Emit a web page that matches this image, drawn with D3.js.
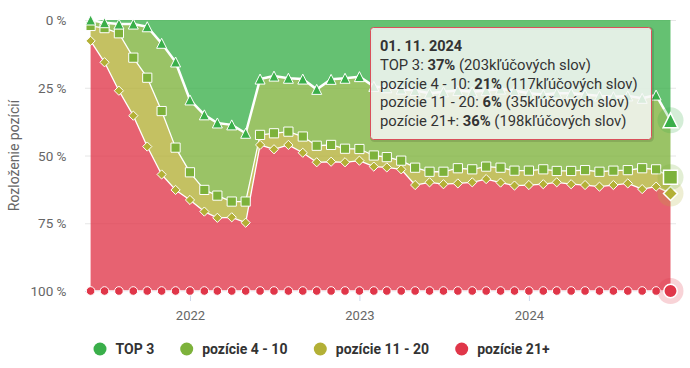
<!DOCTYPE html>
<html>
<head>
<meta charset="utf-8">
<script src="https://cdn.jsdelivr.net/npm/d3@7"></script>
<style>
  body { margin: 0; background: #fff; }
  svg { font-family: Roboto, "Open Sans", sans-serif; display: block; }
</style>
</head>
<body>
<svg id="chart" width="690" height="368"></svg>
<script>
// monthly snapshots, share of keywords (%) per position bucket
var months = ["2021-06","2021-07","2021-08","2021-09","2021-10","2021-11","2021-12",
  "2022-01","2022-02","2022-03","2022-04","2022-05","2022-06","2022-07","2022-08","2022-09","2022-10","2022-11","2022-12",
  "2023-01","2023-02","2023-03","2023-04","2023-05","2023-06","2023-07","2023-08","2023-09","2023-10","2023-11","2023-12",
  "2024-01","2024-02","2024-03","2024-04","2024-05","2024-06","2024-07","2024-08","2024-09","2024-10","2024-11"];

var top3 = [0, 1, 1.5, 1.5, 2.5, 8.6, 15.5,
  29.5, 35, 38, 38.7, 41.8, 21.8, 20.7, 21.5, 21.8, 25.6, 21.9, 21.5,
  20.9, 24.5, 25, 25.5, 26, 27, 26.5, 26, 26.5, 26, 25.5, 26,
  27, 27.5, 27, 27, 27.5, 28, 28.3, 28, 28.9, 27.7, 37];
var pos4to10 = [2.2, 2, 3.4, 12.4, 18.8, 25, 31.6,
  26.7, 27.7, 26.8, 28.3, 25.2, 20.6, 21.1, 19.7, 21.2, 20.8, 24.2, 26,
  26.7, 25.5, 25.6, 26.4, 28.5, 29, 29.5, 28.7, 28.6, 28.1, 29, 29.6,
  28.6, 27.6, 28.7, 28.7, 27.9, 28, 27.3, 27.4, 25.8, 27.4, 21];
var pos11to20 = [5.5, 12.6, 21.2, 21.4, 25.4, 23.4, 15.6,
  10.2, 8, 8.2, 5.8, 7.8, 3.7, 5.9, 4.9, 6, 6.1, 6.2, 5,
  4.3, 4.1, 3.8, 3.2, 6.4, 3.9, 4.6, 5.6, 4.8, 4.6, 5.5, 5.5,
  5.3, 5.5, 4.2, 4.9, 5.5, 5.5, 5.3, 4.9, 7.7, 6.4, 6];
var pos21plus = [92.3, 84.4, 73.9, 64.7, 53.3, 43, 37.3,
  33.6, 29.3, 27, 27.2, 25.2, 53.9, 52.3, 53.9, 51, 47.5, 47.7, 47.5,
  48.1, 45.9, 45.6, 44.9, 39.1, 40.1, 39.4, 39.7, 40.1, 41.3, 40, 38.9,
  39.1, 39.4, 40.1, 39.4, 39.1, 38.5, 39.1, 39.7, 37.6, 38.5, 36];

var seriesKeys = ["top3", "p4", "p11", "p21"];
var seriesNames = ["TOP 3", "pozície 4 - 10", "pozície 11 - 20", "pozície 21+"];
var seriesColors = ["#3aaf4a", "#7db23b", "#b3b036", "#e03649"];
var seriesSymbols = ["triangle", "square", "diamond", "circle"];
var yTicks = [0, 25, 50, 75, 100];

// hovered point in the tooltip
var tipDate = "01. 11. 2024";
var tipShares = [37, 21, 6, 36];
var tipCounts = [203, 117, 35, 198];

var svg = d3.select("#chart");
var parseMonth = d3.timeParse("%Y-%m");

var data = months.map(function(m, i) {
  return { date: parseMonth(m), top3: top3[i], p4: pos4to10[i], p11: pos11to20[i], p21: pos21plus[i] };
});
var stacked = d3.stack().keys(seriesKeys)(data);

var plot = { left: 85, right: 676, top: 20, bottom: 291 };

var xScale = d3.scaleTime()
  .domain([data[0].date, data[data.length - 1].date])
  .range([90.6, 670.5]);
// reversed: 0 % at the top
var yScale = d3.scaleLinear().domain([0, 100]).range([plot.top, plot.bottom]);

// grid
svg.append("g").selectAll("line")
  .data(yTicks)
  .enter().append("line")
    .attr("x1", plot.left).attr("x2", plot.right)
    .attr("y1", function(d) { return yScale(d) + 0.5; })
    .attr("y2", function(d) { return yScale(d) + 0.5; })
    .attr("stroke", "#e6e6e6");

// y labels
svg.append("g").selectAll("text")
  .data(yTicks)
  .enter().append("text")
    .attr("x", 66.5)
    .attr("y", function(d) { return yScale(d) + 5; })
    .attr("text-anchor", "end")
    .attr("fill", "#666")
    .style("font-size", "13.5px")
    .text(function(d) { return d + " %"; });

svg.append("text")
  .attr("transform", "translate(19," + ((plot.top + plot.bottom) / 2) + ") rotate(-90)")
  .attr("text-anchor", "middle")
  .attr("fill", "#666")
  .style("font-size", "14px")
  .text("Rozloženie pozícií");

// x axis
var xAxis = svg.append("g")
  .attr("transform", "translate(0," + plot.bottom + ")")
  .call(d3.axisBottom(xScale).ticks(d3.timeYear.every(1)).tickSize(10).tickPadding(10).tickFormat(d3.timeFormat("%Y")));
xAxis.select(".domain").remove();
xAxis.selectAll(".tick line").attr("stroke", "#ccd6eb");
xAxis.selectAll(".tick text").attr("fill", "#666").style("font-size", "13px").style("font-family", "Roboto, sans-serif");
xAxis.insert("line", ":first-child")
  .attr("x1", plot.left).attr("x2", plot.right)
  .attr("y1", 0.5).attr("y2", 0.5)
  .attr("stroke", "#ccd6eb");

// areas
var area = d3.area()
  .x(function(d) { return xScale(d.data.date); })
  .y0(function(d) { return yScale(d[0]); })
  .y1(function(d) { return yScale(d[1]); });

svg.append("g").selectAll("path")
  .data(stacked)
  .enter().append("path")
    .attr("d", area)
    .attr("fill", function(d, i) { return seriesColors[i]; })
    .attr("fill-opacity", 0.78);

// boundary lines
var line = d3.line()
  .x(function(d) { return xScale(d.data.date); })
  .y(function(d) { return yScale(d[1]); });

svg.append("g").selectAll("path")
  .data(stacked)
  .enter().append("path")
    .attr("d", line)
    .attr("fill", "none")
    .attr("stroke", "#fff")
    .attr("stroke-width", function(d, i) { return i == 0 ? 2.5 : 1.3; })
    .attr("stroke-linejoin", "round");

function symbolPath(type, cx, cy, r) {
  if (type == "triangle") {
    return "M" + cx + "," + (cy - r) + "L" + (cx + r) + "," + (cy + r) + "L" + (cx - r) + "," + (cy + r) + "Z";
  }
  if (type == "square") {
    return "M" + (cx - r) + "," + (cy - r) + "h" + (2 * r) + "v" + (2 * r) + "h" + (-2 * r) + "Z";
  }
  if (type == "diamond") {
    return "M" + cx + "," + (cy - r) + "L" + (cx + r) + "," + cy + "L" + cx + "," + (cy + r) + "L" + (cx - r) + "," + cy + "Z";
  }
  return "M" + (cx - r) + "," + cy + "a" + r + "," + r + " 0 1,0 " + (2 * r) + ",0a" + r + "," + r + " 0 1,0 " + (-2 * r) + ",0Z";
}

var markerR = [5, 4.6, 4.6, 4.3];
var lastIdx = data.length - 1;

// markers, TOP 3 drawn last (on top)
var order = [3, 2, 1, 0];
order.forEach(function(si) {
  var g = svg.append("g");
  g.selectAll("path")
    .data(stacked[si].slice(0, lastIdx))
    .enter().append("path")
      .attr("d", function(d) { return symbolPath(seriesSymbols[si], xScale(d.data.date), yScale(d[1]), markerR[si]); })
      .attr("fill", seriesColors[si])
      .attr("stroke", "#fff")
      .attr("stroke-width", 1);
});

// hovered point: halo + enlarged marker
order.forEach(function(si) {
  var d = stacked[si][lastIdx];
  var cx = xScale(d.data.date), cy = yScale(d[1]);
  svg.append("circle")
    .attr("cx", cx).attr("cy", cy).attr("r", 13)
    .attr("fill", seriesColors[si])
    .attr("fill-opacity", 0.22);
  svg.append("path")
    .attr("d", symbolPath(seriesSymbols[si], cx, cy, markerR[si] + 2.4))
    .attr("fill", seriesColors[si])
    .attr("stroke", "#fff")
    .attr("stroke-width", 1.5);
});

// legend
var legendX = [100, 186.7, 320.3, 461.7];
var legend = svg.append("g").selectAll("g")
  .data(seriesNames)
  .enter().append("g")
    .attr("transform", function(d, i) { return "translate(" + legendX[i] + ",349)"; });
legend.append("circle")
  .attr("r", 6.5)
  .attr("fill", function(d, i) { return seriesColors[i]; });
legend.append("text")
  .attr("x", 15.5)
  .attr("y", 5)
  .attr("fill", "#333")
  .style("font-size", "14px")
  .style("font-weight", "bold")
  .text(function(d) { return d; });

// tooltip
var tip = svg.append("g").attr("transform", "translate(370.5,27.5)");
tip.append("rect")
  .attr("x", 1).attr("y", 1).attr("width", 281).attr("height", 112).attr("rx", 3)
  .attr("fill", "none").attr("stroke", "rgba(0,0,0,0.12)").attr("stroke-width", 3);
tip.append("rect")
  .attr("width", 281).attr("height", 112).attr("rx", 3)
  .attr("fill", "rgba(247,247,247,0.85)")
  .attr("stroke", "#d9505a").attr("stroke-width", 1);
tip.append("text")
  .attr("x", 9.5).attr("y", 23.5)
  .attr("fill", "#333")
  .style("font-size", "14.5px").style("font-weight", "bold")
  .text(tipDate);
seriesNames.forEach(function(name, i) {
  var t = tip.append("text")
    .attr("x", 9.5).attr("y", 42.5 + i * 18.5)
    .attr("fill", "#333")
    .style("font-size", "14.8px");
  t.append("tspan").text(name + ": ");
  t.append("tspan").style("font-weight", "bold").text(tipShares[i] + "%");
  t.append("tspan").text(" (" + tipCounts[i] + "kľúčových slov)");
});
</script>
</body>
</html>
